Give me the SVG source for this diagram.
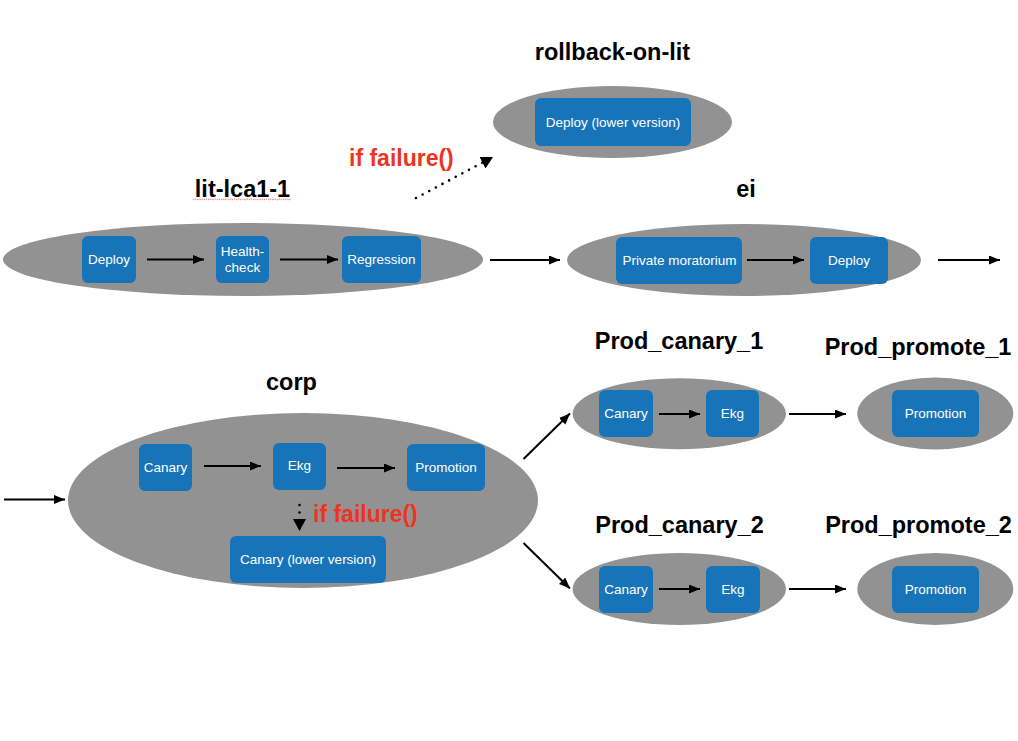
<svg xmlns="http://www.w3.org/2000/svg" width="1018" height="741" viewBox="0 0 1018 741">
<style>
.bg{fill:#ffffff}
.env{fill:#929292}
.box{fill:#1874b9}
.bt{font-family:"Liberation Sans",Arial,sans-serif;font-size:13.5px;fill:#ffffff;text-anchor:middle}
.title{font-family:"Liberation Sans",Arial,sans-serif;font-size:23.5px;font-weight:bold;fill:#000000;text-anchor:middle}
.fail{font-family:"Liberation Sans",Arial,sans-serif;font-size:23px;font-weight:bold;fill:#ef3320}
.arr{stroke:#000000;stroke-width:2;fill:none;marker-end:url(#ah)}
.dot{stroke:#000000;stroke-width:2.6;fill:none;stroke-linecap:round;stroke-dasharray:0 7.5;marker-end:url(#ah2)}
</style>
<defs>
<marker id="ah" markerUnits="userSpaceOnUse" markerWidth="12" markerHeight="10" refX="11" refY="4.5" orient="auto">
<path d="M0,0 L11,4.5 L0,9 z" fill="#000000"/>
</marker>
<marker id="ah2" markerUnits="userSpaceOnUse" markerWidth="14" markerHeight="14" refX="12" refY="6.5" orient="auto">
<path d="M0,0 L12,6.5 L0,13 z" fill="#000000"/>
</marker>
</defs>
<rect class="bg" x="0" y="0" width="1018" height="741"/>

<g id="rollback-on-lit">
<text class="title" x="612.5" y="60">rollback-on-lit</text>
<ellipse class="env" cx="612.5" cy="122" rx="119.5" ry="36"/>
<rect class="box" x="535" y="98" width="156" height="48" rx="6"/>
<text class="bt" x="613" y="126.5">Deploy (lower version)</text>
</g>

<g id="lit-lca1-1">
<text class="title" x="242.5" y="197">lit-lca1-1</text>
<path d="M193,200 l2,-1.2 l2,1.2 l2,-1.2 l2,1.2 l2,-1.2 l2,1.2 l2,-1.2 l2,1.2 l2,-1.2 l2,1.2 l2,-1.2 l2,1.2 l2,-1.2 l2,1.2 l2,-1.2 l2,1.2 l2,-1.2 l2,1.2 l2,-1.2 l2,1.2 l2,-1.2 l2,1.2 l2,-1.2 l2,1.2 l2,-1.2 l2,1.2 l2,-1.2 l2,1.2 l2,-1.2 l2,1.2 l2,-1.2 l2,1.2 l2,-1.2 l2,1.2 l2,-1.2 l2,1.2 l2,-1.2 l2,1.2 l2,-1.2 l2,1.2 l2,-1.2 l2,1.2 l2,-1.2 l2,1.2 l2,-1.2 l2,1.2 l2,-1.2 l2,1.2 l2,-1.2" fill="none" stroke="#e8403a" stroke-width="1" stroke-dasharray="1.5 1" opacity="0.8"/>
<ellipse class="env" cx="243" cy="259.5" rx="240" ry="36.5"/>
<g id="lit-deploy"><rect class="box" x="82" y="236" width="54" height="47" rx="6"/><text class="bt" x="109" y="264">Deploy</text></g>
<g id="lit-health"><rect class="box" x="216" y="236" width="53" height="47" rx="6"/><text class="bt" x="242.5" y="256">Health-</text><text class="bt" x="242.5" y="272">check</text></g>
<g id="lit-regression"><rect class="box" x="342" y="236" width="79" height="47" rx="6"/><text class="bt" x="381.5" y="264">Regression</text></g>
</g>

<g id="ei">
<text class="title" x="746" y="197">ei</text>
<ellipse class="env" cx="744" cy="260" rx="177" ry="36"/>
<g id="ei-moratorium"><rect class="box" x="616" y="237" width="126" height="47" rx="6"/><text class="bt" x="679.5" y="264.5">Private moratorium</text></g>
<g id="ei-deploy"><rect class="box" x="810" y="237" width="78" height="47" rx="6"/><text class="bt" x="849" y="264.5">Deploy</text></g>
</g>

<g id="corp">
<text class="title" x="291.5" y="390">corp</text>
<ellipse class="env" cx="303" cy="500.5" rx="235" ry="87.5"/>
<g id="corp-canary"><rect class="box" x="139" y="444" width="53" height="47" rx="6"/><text class="bt" x="165.5" y="472">Canary</text></g>
<g id="corp-ekg"><rect class="box" x="273" y="443" width="53" height="47" rx="6"/><text class="bt" x="299.5" y="470">Ekg</text></g>
<g id="corp-promotion"><rect class="box" x="407" y="444" width="78" height="47" rx="6"/><text class="bt" x="446" y="472">Promotion</text></g>
<g id="corp-canary-lower"><rect class="box" x="230" y="536" width="156" height="47" rx="6"/><text class="bt" x="308" y="564">Canary (lower version)</text></g>
</g>

<g id="prod-canary-1">
<text class="title" x="679" y="349">Prod_canary_1</text>
<ellipse class="env" cx="679.3" cy="413.8" rx="106.7" ry="35.5"/>
<g id="pc1-canary"><rect class="box" x="599" y="390" width="54" height="47" rx="6"/><text class="bt" x="626" y="418">Canary</text></g>
<g id="pc1-ekg"><rect class="box" x="706" y="390" width="53" height="47" rx="6"/><text class="bt" x="732.5" y="418">Ekg</text></g>
</g>

<g id="prod-promote-1">
<text class="title" x="918" y="355">Prod_promote_1</text>
<ellipse class="env" cx="935.3" cy="413.5" rx="78" ry="36"/>
<g id="pp1-promotion"><rect class="box" x="892" y="390" width="87" height="47" rx="6"/><text class="bt" x="935.5" y="418">Promotion</text></g>
</g>

<g id="prod-canary-2">
<text class="title" x="679.5" y="533">Prod_canary_2</text>
<ellipse class="env" cx="679.3" cy="589" rx="106.7" ry="36"/>
<g id="pc2-canary"><rect class="box" x="599" y="566" width="54" height="47" rx="6"/><text class="bt" x="626" y="593.5">Canary</text></g>
<g id="pc2-ekg"><rect class="box" x="706" y="566" width="54" height="47" rx="6"/><text class="bt" x="733" y="593.5">Ekg</text></g>
</g>

<g id="prod-promote-2">
<text class="title" x="918.5" y="533">Prod_promote_2</text>
<ellipse class="env" cx="935.3" cy="589" rx="78" ry="36"/>
<g id="pp2-promotion"><rect class="box" x="892" y="566" width="87" height="47" rx="6"/><text class="bt" x="935.5" y="594">Promotion</text></g>
</g>

<g id="connectors">
<line class="arr" x1="147" y1="259.5" x2="204" y2="259.5"/>
<line class="arr" x1="280" y1="259.5" x2="338" y2="259.5"/>
<line class="arr" x1="490" y1="260" x2="560" y2="260"/>
<line class="arr" x1="747" y1="260" x2="804" y2="260"/>
<line class="arr" x1="938" y1="260" x2="1000" y2="260"/>
<line class="dot" x1="416" y1="198" x2="493" y2="157"/>
<line class="arr" x1="4" y1="499.5" x2="65" y2="499.5"/>
<line class="arr" x1="204" y1="466" x2="261" y2="466"/>
<line class="arr" x1="337" y1="468" x2="395" y2="468"/>
<line class="dot" x1="299.5" y1="505" x2="299.5" y2="531"/>
<line class="arr" x1="523.5" y1="459" x2="570" y2="413.5"/>
<line class="arr" x1="523.5" y1="543" x2="570" y2="588.5"/>
<line class="arr" x1="659" y1="414" x2="700" y2="414"/>
<line class="arr" x1="789" y1="414" x2="846" y2="414"/>
<line class="arr" x1="659" y1="589" x2="700" y2="589"/>
<line class="arr" x1="789" y1="589" x2="846" y2="589"/>
</g>

<text class="fail" x="349" y="166">if failure()</text>
<text class="fail" x="313" y="522">if failure()</text>
</svg>
